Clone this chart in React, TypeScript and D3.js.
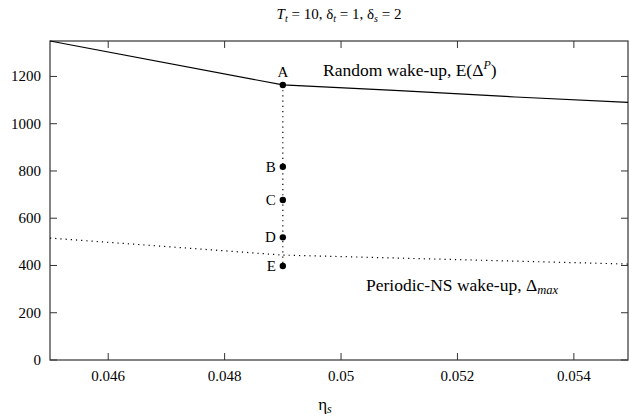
import React from "react";
import * as d3 from "d3";

const xTicks = [0.046, 0.048, 0.05, 0.052, 0.054];
const yTicks = [0, 200, 400, 600, 800, 1000, 1200];
const randomX = [0.045, 0.049, 0.051, 0.053, 0.05493];
const randomY = [1350, 1164, 1140, 1113, 1090];
const periodicX = [0.045, 0.049, 0.05493];
const periodicY = [516, 444, 406];
const pointLabels = ["A", "B", "C", "D", "E"];
const pointY = [1164, 818, 677, 519, 398];
const pointX = 0.049;

const W = 629, H = 419;
const M = { left: 50, right: 628, top: 41, bottom: 360 };

export default function App() {
  const x = d3.scaleLinear().domain([0.045, 0.05493]).range([M.left, M.right]);
  const y = d3.scaleLinear().domain([0, 1350]).range([M.bottom, M.top]);
  const line = d3.line<[number, number]>().x(d => x(d[0])).y(d => y(d[1]));
  const randomPts = randomX.map((v, i) => [v, randomY[i]] as [number, number]);
  const periodicPts = periodicX.map((v, i) => [v, periodicY[i]] as [number, number]);
  const font = "Liberation Serif, DejaVu Serif, serif";
  const tk = 7;
  return (
    <svg width={W} height={H} style={{ position: "absolute", left: 0, top: 0, fontFamily: font }}>
      <rect x={0} y={0} width={W} height={H} fill="#fff" />
      <g style={{ fontFamily: font }}>
        <text x={339} y={19} textAnchor="middle" fontSize={15}>
          <tspan fontStyle="italic">T</tspan><tspan fontStyle="italic" fontSize={10} dy={3}>t</tspan>
          <tspan dy={-3}> = 10, δ</tspan><tspan fontStyle="italic" fontSize={10} dy={3}>t</tspan>
          <tspan dy={-3}> = 1, δ</tspan><tspan fontStyle="italic" fontSize={10} dy={3}>s</tspan>
          <tspan dy={-3}> = 2</tspan>
        </text>
        <rect x={M.left} y={M.top} width={M.right - M.left} height={M.bottom - M.top} fill="none" stroke="#333" strokeWidth={1.2} />
        {xTicks.map(t => (
          <g key={"x" + t}>
            <line x1={x(t)} x2={x(t)} y1={M.bottom} y2={M.bottom - tk} stroke="#333" />
            <line x1={x(t)} x2={x(t)} y1={M.top} y2={M.top + tk} stroke="#333" />
            <text x={x(t)} y={M.bottom + 21} textAnchor="middle" fontSize={15}>{String(t)}</text>
          </g>
        ))}
        {yTicks.map(t => (
          <g key={"y" + t}>
            <line x1={M.left} x2={M.left + tk} y1={y(t)} y2={y(t)} stroke="#333" />
            <line x1={M.right} x2={M.right - tk} y1={y(t)} y2={y(t)} stroke="#333" />
            <text x={M.left - 9} y={y(t) + 5} textAnchor="end" fontSize={15}>{String(t)}</text>
          </g>
        ))}
        <text x={325} y={410} textAnchor="middle" fontSize={17}>η<tspan fontStyle="italic" fontSize={12} dy={3}>s</tspan></text>
        <path d={line(randomPts) || ""} fill="none" stroke="#000" strokeWidth={1.2} />
        <path d={line(periodicPts) || ""} fill="none" stroke="#000" strokeWidth={1.2} strokeDasharray="1.2,4" />
        <line x1={x(pointX)} x2={x(pointX)} y1={y(pointY[0])} y2={y(pointY[4])} stroke="#000" strokeWidth={1.2} strokeDasharray="1.2,4" />
        {pointLabels.map((lab, i) => (
          <g key={lab}>
            <circle cx={x(pointX)} cy={y(pointY[i])} r={3.2} fill="#000" />
            {i === 0 ? (
              <text x={x(pointX)} y={y(pointY[i]) - 8} textAnchor="middle" fontSize={15}>{lab}</text>
            ) : (
              <text x={x(pointX) - 7} y={y(pointY[i]) + 5} textAnchor="end" fontSize={15}>{lab}</text>
            )}
          </g>
        ))}
        <text x={323} y={76} fontSize={17.5}>Random wake-up, E(Δ<tspan fontStyle="italic" fontSize={12} dy={-7}>P</tspan><tspan dy={7}>)</tspan></text>
        <text x={366} y={291} fontSize={17.5}>Periodic-NS wake-up, Δ<tspan fontStyle="italic" fontSize={12.5} dy={3}>max</tspan></text>
      </g>
    </svg>
  );
}
